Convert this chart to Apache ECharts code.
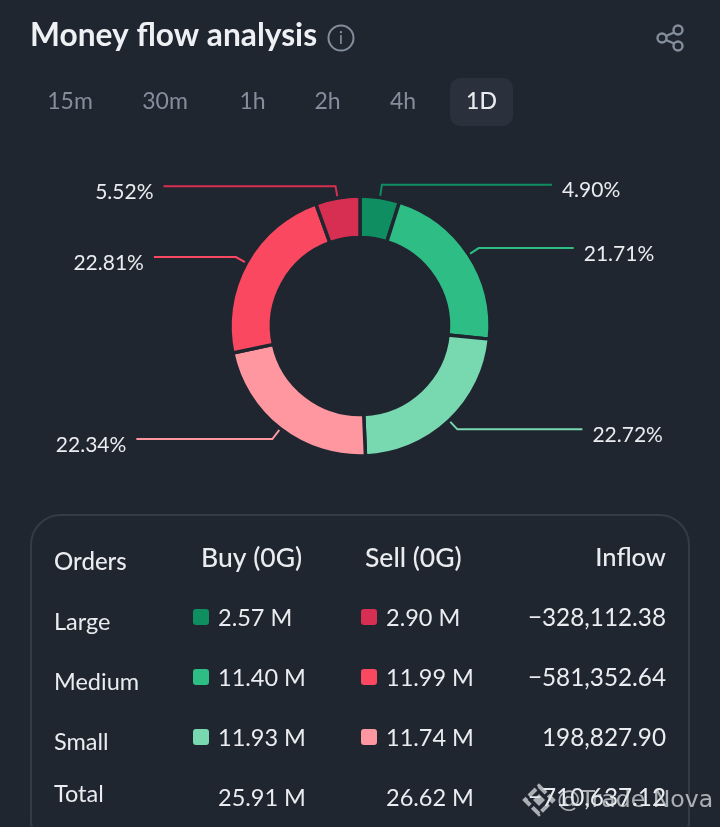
<!DOCTYPE html>
<html><head><meta charset="utf-8">
<style>html,body{margin:0;padding:0;background:#1f2630}#c{width:720px;height:827px}</style>
<script src="https://cdn.jsdelivr.net/npm/echarts@6/dist/echarts.min.js"></script>
</head><body><div id="c"></div>
<script>
const sliceNames = ['Large buy','Medium buy','Small buy','Small sell','Medium sell','Large sell'];
const sliceValues = [4.90,21.71,22.72,22.34,22.81,5.52];
const sliceColors = ['#0f8e62','#2ebd85','#78d8b0','#ff97a0','#f94860','#d72f52'];
const tabs = ['15m','30m','1h','2h','4h','1D'];
const headers = ['Orders','Buy (0G)','Sell (0G)','Inflow'];
const rowNames = ['Large','Medium','Small','Total'];
const buyValues = ['2.57 M','11.40 M','11.93 M','25.91 M'];
const sellValues = ['2.90 M','11.99 M','11.74 M','26.62 M'];
const inflowValues = ['−328,112.38','−581,352.64','198,827.90','−710,637.12'];

const FONT = 'Lato, "Open Sans", sans-serif';
const TXT = '#eaecef', GREY = '#848e9c', BG = '#1f2630';
const line1 = [13,12,12,13,12,12], line2 = [170,95,125,136,82,172];

const t = (x,y,text,size,fill,align,weight,z,font) => ({type:'text',x,y,z:z||5,style:{text,fontSize:size,fontFamily:font||FONT,fill,align:align||'left',verticalAlign:'middle',fontWeight:weight||400}});
const g = [];
// header
g.push({type:'circle',shape:{cx:341,cy:38,r:12.5},style:{fill:'none',stroke:GREY,lineWidth:2}});
g.push(t(341,38,'i',18,GREY,'center'));
[[678,30],[662,38],[678,46]].forEach(p=>g.push({type:'circle',shape:{cx:p[0],cy:p[1],r:4.5},style:{fill:'none',stroke:GREY,lineWidth:2.4}}));
g.push({type:'polyline',shape:{points:[[674,32.5],[666,36]]},style:{stroke:GREY,lineWidth:2.4,fill:'none'}});
g.push({type:'polyline',shape:{points:[[666,40],[674,43.5]]},style:{stroke:GREY,lineWidth:2.4,fill:'none'}});
// tabs
g.push({type:'rect',shape:{x:450,y:78,width:63,height:48,r:10},style:{fill:'#2a303c'}});
const tabX = [70,165,252.5,327.5,403,481.5];
tabs.forEach((s,i)=>g.push(t(tabX[i],102,s,23,i===5?TXT:GREY,'center',i===5?500:400)));
// table
g.push({type:'rect',shape:{x:31,y:515,width:658,height:335,r:30},style:{fill:'none',stroke:'#343b48',lineWidth:2}});
g.push(t(54,562,headers[0],24,TXT,'left',500));
g.push(t(201,558,headers[1],26.5,TXT,'left',500));
g.push(t(365,558,headers[2],26.5,TXT,'left',500));
g.push(t(666,558,headers[3],25.5,TXT,'right',500));
const nameY=[622,682,742,794], valY=[618,678,738,798];
rowNames.forEach((s,i)=>{
  g.push(t(54,nameY[i],s,23.5,TXT));
  g.push(t(218,valY[i],buyValues[i],23.5,TXT));
  g.push(t(386,valY[i],sellValues[i],23.5,TXT));
  g.push(t(666,valY[i],inflowValues[i],24.3,TXT,'right'));
  if(i<3){
    g.push({type:'rect',shape:{x:193,y:valY[i]-9,width:16,height:16,r:3},style:{fill:sliceColors[i]}});
    g.push({type:'rect',shape:{x:361,y:valY[i]-9,width:16,height:16,r:3},style:{fill:sliceColors[5-i]}});
  }
});
// watermark
const WM='rgba(225,228,232,.72)';
g.push({type:'polygon',z:8,shape:{points:[[539,786],[553,800],[539,814],[525,800]]},style:{fill:'none',stroke:WM,lineWidth:4,lineDash:[10,3]}});
g.push({type:'polygon',z:8,shape:{points:[[539,794],[545,800],[539,806],[533,800]]},style:{fill:WM}});
g.push(t(557,801,'@Trade Nova',23.6,WM,'left',400,8,'"DejaVu Sans"'));

const chart = echarts.init(document.getElementById('c'),null,{renderer:'canvas'});
chart.setOption({
  backgroundColor:BG,animation:false,
  title:{text:'Money flow analysis',left:30,top:20,padding:0,textStyle:{color:'#eef0f3',fontSize:31.7,fontWeight:700,fontFamily:FONT}},
  graphic:g,
  series:[{type:'pie',center:[360,326],radius:[88.5,130],startAngle:90,clockwise:true,avoidLabelOverlap:false,
    itemStyle:{borderColor:BG,borderWidth:3.5},
    label:{show:true,position:'outside',formatter:p=>'{v|'+p.value.toFixed(2)+'%}',distanceToLabelLine:10,
      rich:{v:{color:TXT,fontSize:21,fontFamily:FONT,padding:[12,0,0,0]}}},
    labelLine:{show:true,smooth:false,minTurnAngle:0,lineStyle:{width:2}},
    emphasis:{disabled:true},
    data:sliceValues.map((v,i)=>({name:sliceNames[i],value:v,itemStyle:{color:sliceColors[i]},labelLine:{length:line1[i],length2:line2[i],lineStyle:{color:sliceColors[i]}}}))
  }]
});
</script></body></html>
